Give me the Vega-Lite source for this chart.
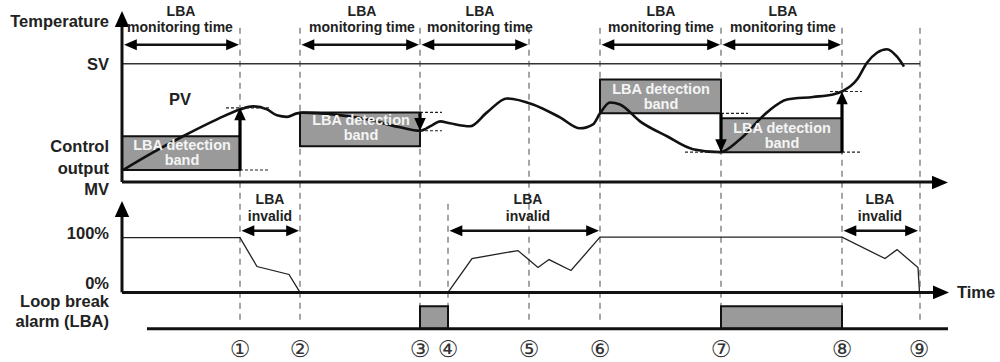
{
  "$schema": "https://vega.github.io/schema/vega-lite/v6.json",
  "width": 1000,
  "height": 362,
  "autosize": {"type": "fit", "contains": "padding"},
  "padding": 0,
  "background": "white",
  "config": {"view": {"stroke": null}},
  "datasets": {
    "dashV": [
      {"x": 240, "y": 28, "x2": 240, "y2": 326},
      {"x": 300, "y": 28, "x2": 300, "y2": 326},
      {"x": 420, "y": 28, "x2": 420, "y2": 326},
      {"x": 448, "y": 205, "x2": 448, "y2": 326},
      {"x": 529, "y": 28, "x2": 529, "y2": 326},
      {"x": 600, "y": 28, "x2": 600, "y2": 326},
      {"x": 721, "y": 28, "x2": 721, "y2": 326},
      {"x": 842, "y": 28, "x2": 842, "y2": 326},
      {"x": 920, "y": 28, "x2": 920, "y2": 326}
    ],
    "bands": [
      {"x": 122, "x2": 240, "y": 137, "y2": 171},
      {"x": 300, "x2": 420, "y": 113, "y2": 147},
      {"x": 600, "x2": 721, "y": 80, "y2": 114},
      {"x": 721, "x2": 842, "y": 119, "y2": 153},
      {"x": 420, "x2": 448, "y": 308, "y2": 330.5},
      {"x": 721, "x2": 842, "y": 308, "y2": 330.5}
    ],
    "sv": [
      {"x": 122, "y": 64, "x2": 920, "y2": 64}
    ],
    "mv": [
      {"s": "a", "x": 122, "y": 239},
      {"s": "a", "x": 240, "y": 239},
      {"s": "a", "x": 257, "y": 268},
      {"s": "a", "x": 289, "y": 276},
      {"s": "a", "x": 300, "y": 294},
      {"s": "b", "x": 448, "y": 294},
      {"s": "b", "x": 472, "y": 260},
      {"s": "b", "x": 500, "y": 255},
      {"s": "b", "x": 518, "y": 252},
      {"s": "b", "x": 538, "y": 269},
      {"s": "b", "x": 549, "y": 261},
      {"s": "b", "x": 571, "y": 272},
      {"s": "b", "x": 600, "y": 238.5},
      {"s": "b", "x": 842, "y": 238.5},
      {"s": "b", "x": 885, "y": 260},
      {"s": "b", "x": 897, "y": 251},
      {"s": "b", "x": 918, "y": 269},
      {"s": "b", "x": 919.5, "y": 294}
    ],
    "pv": [
      {"x": 123, "y": 171}, {"x": 150, "y": 155}, {"x": 183, "y": 137},
      {"x": 217, "y": 120}, {"x": 240, "y": 110}, {"x": 253, "y": 107},
      {"x": 267, "y": 110}, {"x": 277, "y": 116}, {"x": 287, "y": 117.5},
      {"x": 297, "y": 114}, {"x": 303, "y": 113.3}, {"x": 333, "y": 115},
      {"x": 367, "y": 120}, {"x": 400, "y": 128}, {"x": 420, "y": 131.5},
      {"x": 432, "y": 126}, {"x": 440, "y": 122}, {"x": 450, "y": 124},
      {"x": 470, "y": 127}, {"x": 487, "y": 113}, {"x": 507, "y": 99},
      {"x": 533, "y": 105}, {"x": 560, "y": 118}, {"x": 580, "y": 129},
      {"x": 593, "y": 125}, {"x": 600, "y": 114}, {"x": 610, "y": 103},
      {"x": 620, "y": 105}, {"x": 640, "y": 122}, {"x": 667, "y": 137},
      {"x": 693, "y": 150}, {"x": 720, "y": 153}, {"x": 740, "y": 140},
      {"x": 767, "y": 113}, {"x": 787, "y": 100}, {"x": 813, "y": 97.5},
      {"x": 833, "y": 95}, {"x": 843, "y": 91.5}, {"x": 857, "y": 80},
      {"x": 867, "y": 63}, {"x": 877, "y": 53}, {"x": 887, "y": 49.5},
      {"x": 897, "y": 57}, {"x": 904, "y": 67}
    ],
    "shortDash": [
      {"x": 226, "y": 108.5, "x2": 270, "y2": 108.5},
      {"x": 240, "y": 171, "x2": 270, "y2": 171},
      {"x": 420, "y": 113, "x2": 442, "y2": 113},
      {"x": 420, "y": 131.5, "x2": 442, "y2": 131.5},
      {"x": 721, "y": 114, "x2": 748, "y2": 114},
      {"x": 685, "y": 153, "x2": 721, "y2": 153},
      {"x": 842, "y": 153, "x2": 862, "y2": 153},
      {"x": 830, "y": 92, "x2": 862, "y2": 92}
    ],
    "thick": [
      {"x": 240, "y": 171, "x2": 240, "y2": 118},
      {"x": 420, "y": 113, "x2": 420, "y2": 122},
      {"x": 721, "y": 114, "x2": 721, "y2": 143},
      {"x": 842, "y": 153, "x2": 842, "y2": 102}
    ],
    "spans": [
      {"x": 130, "y": 45, "x2": 232, "y2": 45},
      {"x": 308, "y": 45, "x2": 412, "y2": 45},
      {"x": 428, "y": 45, "x2": 521, "y2": 45},
      {"x": 608, "y": 45, "x2": 713, "y2": 45},
      {"x": 729, "y": 45, "x2": 834, "y2": 45},
      {"x": 248, "y": 232, "x2": 292, "y2": 232},
      {"x": 456, "y": 232, "x2": 592, "y2": 232},
      {"x": 850, "y": 232, "x2": 911, "y2": 232}
    ],
    "heads": [
      {"x": 124, "y": 45, "d": "left"}, {"x": 239, "y": 45, "d": "right"},
      {"x": 301.5, "y": 45, "d": "left"}, {"x": 419, "y": 45, "d": "right"},
      {"x": 421.5, "y": 45, "d": "left"}, {"x": 528, "y": 45, "d": "right"},
      {"x": 601.5, "y": 45, "d": "left"}, {"x": 720, "y": 45, "d": "right"},
      {"x": 722.5, "y": 45, "d": "left"}, {"x": 841, "y": 45, "d": "right"},
      {"x": 241.5, "y": 232, "d": "left"}, {"x": 299, "y": 232, "d": "right"},
      {"x": 449.5, "y": 232, "d": "left"}, {"x": 599, "y": 232, "d": "right"},
      {"x": 843.5, "y": 232, "d": "left"}, {"x": 918, "y": 232, "d": "right"},
      {"x": 240, "y": 108, "d": "up"},
      {"x": 420, "y": 131.5, "d": "down"},
      {"x": 721, "y": 153, "d": "down"},
      {"x": 842, "y": 92, "d": "up"}
    ],
    "axes": [
      {"x": 122, "y": 183, "x2": 936, "y2": 183},
      {"x": 122, "y": 183, "x2": 122, "y2": 24},
      {"x": 122, "y": 294, "x2": 936, "y2": 294},
      {"x": 122, "y": 294, "x2": 122, "y2": 214},
      {"x": 147, "y": 330.5, "x2": 948, "y2": 330.5}
    ],
    "bigHeads": [
      {"x": 122, "y": 11, "d": "up"},
      {"x": 948, "y": 183.5, "d": "right"},
      {"x": 122, "y": 202, "d": "up"},
      {"x": 949, "y": 294, "d": "right"}
    ],
    "leftLabels": [
      {"x": 109, "y": 22.5, "t": "Temperature"},
      {"x": 109, "y": 65, "t": "SV"},
      {"x": 109, "y": 148, "t": "Control"},
      {"x": 109, "y": 170, "t": "output"},
      {"x": 109, "y": 191, "t": "MV"},
      {"x": 109, "y": 235, "t": "100%"},
      {"x": 109, "y": 286, "t": "0%"},
      {"x": 109, "y": 303.5, "t": "Loop break"},
      {"x": 109, "y": 324, "t": "alarm (LBA)"}
    ],
    "bigCenter": [
      {"x": 180, "y": 101, "t": "PV"},
      {"x": 976, "y": 294.5, "t": "Time"}
    ],
    "smallCenter": [
      {"x": 181, "y": 12, "t": "LBA"}, {"x": 180, "y": 28.5, "t": "monitoring time"},
      {"x": 362, "y": 12, "t": "LBA"}, {"x": 362, "y": 28.5, "t": "monitoring time"},
      {"x": 480, "y": 12, "t": "LBA"}, {"x": 480, "y": 28.5, "t": "monitoring time"},
      {"x": 661, "y": 12, "t": "LBA"}, {"x": 661, "y": 28.5, "t": "monitoring time"},
      {"x": 783, "y": 12, "t": "LBA"}, {"x": 783, "y": 28.5, "t": "monitoring time"},
      {"x": 270, "y": 201, "t": "LBA"}, {"x": 270, "y": 218, "t": "invalid"},
      {"x": 528, "y": 201, "t": "LBA"}, {"x": 528, "y": 218, "t": "invalid"},
      {"x": 880, "y": 201, "t": "LBA"}, {"x": 880, "y": 218, "t": "invalid"}
    ],
    "bandText": [
      {"x": 182, "y": 146.5, "t": "LBA detection"}, {"x": 182, "y": 161.5, "t": "band"},
      {"x": 361, "y": 121.5, "t": "LBA detection"}, {"x": 361, "y": 136.5, "t": "band"},
      {"x": 661, "y": 91, "t": "LBA detection"}, {"x": 661, "y": 106, "t": "band"},
      {"x": 782, "y": 129.5, "t": "LBA detection"}, {"x": 782, "y": 144.5, "t": "band"}
    ],
    "circled": [
      {"x": 240, "y": 352, "t": "①"}, {"x": 300, "y": 352, "t": "②"},
      {"x": 420, "y": 352, "t": "③"}, {"x": 448, "y": 352, "t": "④"},
      {"x": 529, "y": 352, "t": "⑤"}, {"x": 600, "y": 352, "t": "⑥"},
      {"x": 721, "y": 352, "t": "⑦"}, {"x": 842, "y": 352, "t": "⑧"},
      {"x": 919, "y": 352, "t": "⑨"}
    ]
  },
  "encoding": {
    "x": {"field": "x", "type": "quantitative", "scale": {"domain": [0, 1000], "nice": false, "zero": false}, "axis": null},
    "y": {"field": "y", "type": "quantitative", "scale": {"domain": [0, 362], "nice": false, "zero": false, "reverse": true}, "axis": null}
  },
  "layer": [
    {
      "data": {"name": "dashV"},
      "mark": {"type": "rule", "stroke": "#6a6a6a", "strokeWidth": 1.2, "strokeDash": [6, 5]},
      "encoding": {"x2": {"field": "x2"}, "y2": {"field": "y2"}}
    },
    {
      "data": {"name": "bands"},
      "mark": {"type": "rect", "fill": "#9a9a9a", "stroke": "#111", "strokeWidth": 2},
      "encoding": {"x2": {"field": "x2"}, "y2": {"field": "y2"}}
    },
    {
      "data": {"name": "sv"},
      "mark": {"type": "rule", "stroke": "#333", "strokeWidth": 1.5},
      "encoding": {"x2": {"field": "x2"}, "y2": {"field": "y2"}}
    },
    {
      "data": {"name": "mv"},
      "mark": {"type": "line", "stroke": "#222", "strokeWidth": 1.3},
      "encoding": {"detail": {"field": "s", "type": "nominal"}}
    },
    {
      "data": {"name": "pv"},
      "mark": {"type": "line", "stroke": "#111", "strokeWidth": 2.6, "interpolate": "monotone"},
      "encoding": {}
    },
    {
      "data": {"name": "shortDash"},
      "mark": {"type": "rule", "stroke": "#222", "strokeWidth": 1.1, "strokeDash": [3, 2]},
      "encoding": {"x2": {"field": "x2"}, "y2": {"field": "y2"}}
    },
    {
      "data": {"name": "thick"},
      "mark": {"type": "rule", "stroke": "#000", "strokeWidth": 3.2},
      "encoding": {"x2": {"field": "x2"}, "y2": {"field": "y2"}}
    },
    {
      "data": {"name": "spans"},
      "mark": {"type": "rule", "stroke": "#111", "strokeWidth": 2.6},
      "encoding": {"x2": {"field": "x2"}, "y2": {"field": "y2"}}
    },
    {
      "data": {"name": "heads"},
      "mark": {"type": "point", "filled": true, "fill": "#000", "opacity": 1, "size": 256, "strokeWidth": 0},
      "encoding": {
        "shape": {"field": "d", "type": "nominal", "legend": null,
          "scale": {"domain": ["up", "down", "left", "right"],
            "range": ["M0,0L-0.72,1.6L0.72,1.6Z", "M0,0L-0.72,-1.6L0.72,-1.6Z", "M0,0L1.6,-0.68L1.6,0.68Z", "M0,0L-1.6,-0.68L-1.6,0.68Z"]}}
      }
    },
    {
      "data": {"name": "axes"},
      "mark": {"type": "rule", "stroke": "#111", "strokeWidth": 3},
      "encoding": {"x2": {"field": "x2"}, "y2": {"field": "y2"}}
    },
    {
      "data": {"name": "bigHeads"},
      "mark": {"type": "point", "filled": true, "fill": "#000", "opacity": 1, "size": 400, "strokeWidth": 0},
      "encoding": {
        "shape": {"field": "d", "type": "nominal", "legend": null,
          "scale": {"domain": ["up", "right"],
            "range": ["M0,0L-0.75,1.75L0,1.45L0.75,1.75Z", "M0,0L-1.75,-0.75L-1.45,0L-1.75,0.75Z"]}}
      }
    },
    {
      "data": {"name": "leftLabels"},
      "mark": {"type": "text", "align": "right", "baseline": "middle", "font": "Liberation Sans, Arial, sans-serif", "fontWeight": "bold", "fontSize": 16.5, "fill": "#222"},
      "encoding": {"text": {"field": "t"}}
    },
    {
      "data": {"name": "bigCenter"},
      "mark": {"type": "text", "align": "center", "baseline": "middle", "font": "Liberation Sans, Arial, sans-serif", "fontWeight": "bold", "fontSize": 16.5, "fill": "#222"},
      "encoding": {"text": {"field": "t"}}
    },
    {
      "data": {"name": "smallCenter"},
      "mark": {"type": "text", "align": "center", "baseline": "middle", "font": "Liberation Sans, Arial, sans-serif", "fontWeight": "bold", "fontSize": 14, "fill": "#222"},
      "encoding": {"text": {"field": "t"}}
    },
    {
      "data": {"name": "bandText"},
      "mark": {"type": "text", "align": "center", "baseline": "middle", "font": "Liberation Sans, Arial, sans-serif", "fontWeight": "bold", "fontSize": 14.5, "fill": "#f4f4f4"},
      "encoding": {"text": {"field": "t"}}
    },
    {
      "data": {"name": "circled"},
      "mark": {"type": "text", "align": "center", "baseline": "middle", "font": "DejaVu Sans, sans-serif", "fontSize": 23, "fill": "#333"},
      "encoding": {"text": {"field": "t"}}
    }
  ]
}
